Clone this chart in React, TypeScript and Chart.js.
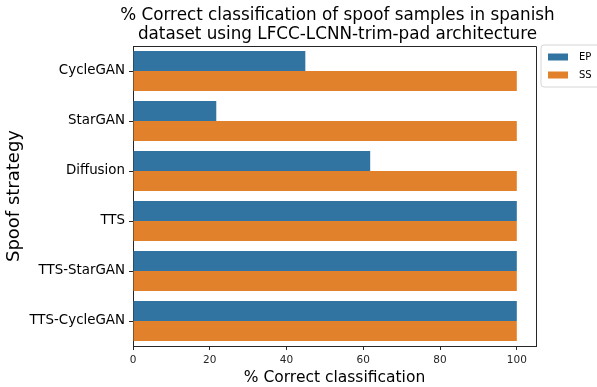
import React, { useEffect, useRef } from "react";
import { Chart, registerables } from "chart.js";

Chart.register(...registerables);

const categories = ["CycleGAN", "StarGAN", "Diffusion", "TTS", "TTS-StarGAN", "TTS-CycleGAN"];
const epValues = [44.9, 21.7, 61.8, 100, 100, 100];
const ssValues = [100, 100, 100, 100, 100, 100];
const seriesNames = ["EP", "SS"];
const seriesColors = ["#3274a1", "#e1812c"];
const titleLines = ["% Correct classification of spoof samples in spanish", "dataset using LFCC-LCNN-trim-pad architecture"];
const xTitle = "% Correct classification";
const yTitle = "Spoof strategy";

const FONT = "'DejaVu Sans', sans-serif";

const decorPlugin = {
  id: "decor",
  afterDraw(chart: any) {
    const { ctx, chartArea } = chart;
    const { left, right, top, bottom } = chartArea;
    ctx.save();
    // box
    ctx.strokeStyle = "#262626";
    ctx.lineWidth = 1;
    ctx.beginPath();
    ctx.moveTo(left, top + 0.5);
    ctx.lineTo(right + 0.5, top + 0.5);
    ctx.lineTo(right + 0.5, bottom);
    ctx.stroke();
    // title
    ctx.fillStyle = "#000";
    ctx.font = `16.8px ${FONT}`;
    ctx.textAlign = "center";
    ctx.textBaseline = "middle";
    const cx = (left + right) / 2;
    ctx.fillText(titleLines[0], cx + 3, 16);
    ctx.fillText(titleLines[1], cx + 3, 35);
    // legend
    const lx = 541, ly = 45, lw = 60, lh = 42;
    ctx.strokeStyle = "#d6d6d6";
    ctx.fillStyle = "rgba(255,255,255,0.8)";
    ctx.beginPath();
    const r = 3;
    ctx.moveTo(lx + r, ly);
    ctx.lineTo(lx + lw - r, ly);
    ctx.arcTo(lx + lw, ly, lx + lw, ly + r, r);
    ctx.lineTo(lx + lw, ly + lh - r);
    ctx.arcTo(lx + lw, ly + lh, lx + lw - r, ly + lh, r);
    ctx.lineTo(lx + r, ly + lh);
    ctx.arcTo(lx, ly + lh, lx, ly + lh - r, r);
    ctx.lineTo(lx, ly + r);
    ctx.arcTo(lx, ly, lx + r, ly, r);
    ctx.closePath();
    ctx.fill();
    ctx.stroke();
    ctx.font = `10px ${FONT}`;
    ctx.textAlign = "left";
    seriesNames.forEach((name, i) => {
      const y = ly + 12 + i * 18;
      ctx.fillStyle = seriesColors[i];
      ctx.fillRect(lx + 7, y - 3.5, 20, 7);
      ctx.fillStyle = "#000";
      ctx.fillText(name, lx + 38, y);
    });
    ctx.restore();
  },
};

export default function App() {
  const ref = useRef<HTMLCanvasElement>(null);
  useEffect(() => {
    const chart = new Chart(ref.current!, {
      type: "bar",
      data: {
        labels: categories,
        datasets: [
          { label: seriesNames[0], data: epValues, backgroundColor: seriesColors[0], categoryPercentage: 0.8, barPercentage: 1 },
          { label: seriesNames[1], data: ssValues, backgroundColor: seriesColors[1], categoryPercentage: 0.8, barPercentage: 1 },
        ],
      },
      options: {
        indexAxis: "y",
        animation: false,
        responsive: false,
        devicePixelRatio: 1,
        layout: { padding: { top: 46, right: 61, left: 0, bottom: 0 } },
        plugins: { legend: { display: false }, title: { display: false }, tooltip: { enabled: false } },
        scales: {
          x: {
            min: 0,
            max: 105,
            ticks: { stepSize: 20, includeBounds: false, color: "#262626", font: { size: 10.5, family: FONT }, padding: 4 },
            grid: { drawOnChartArea: false, tickLength: 4, color: "#262626" },
            border: { color: "#262626" },
            title: { display: true, text: xTitle, color: "#000", font: { size: 15.5, family: FONT }, padding: { top: 0, bottom: 0 } },
            afterFit(scale: any) { scale.height = 41; },
          },
          y: {
            ticks: { color: "#000", font: { size: 13.4, family: FONT }, padding: 4 },
            grid: { drawOnChartArea: false, tickLength: 4, color: "#262626", offset: false },
            border: { color: "#262626" },
            title: { display: true, text: yTitle, color: "#000", font: { size: 18, family: FONT }, padding: { top: 4, bottom: 0 } },
            afterFit(scale: any) { scale.width = 133; },
          },
        },
      },
      plugins: [decorPlugin],
    } as any);
    return () => chart.destroy();
  }, []);
  return (
    <div style={{ position: "fixed", left: 0, top: 0, width: 597, height: 387, background: "#fff" }}>
      <canvas ref={ref} width={597} height={387} style={{ width: 597, height: 387 }} />
    </div>
  );
}
